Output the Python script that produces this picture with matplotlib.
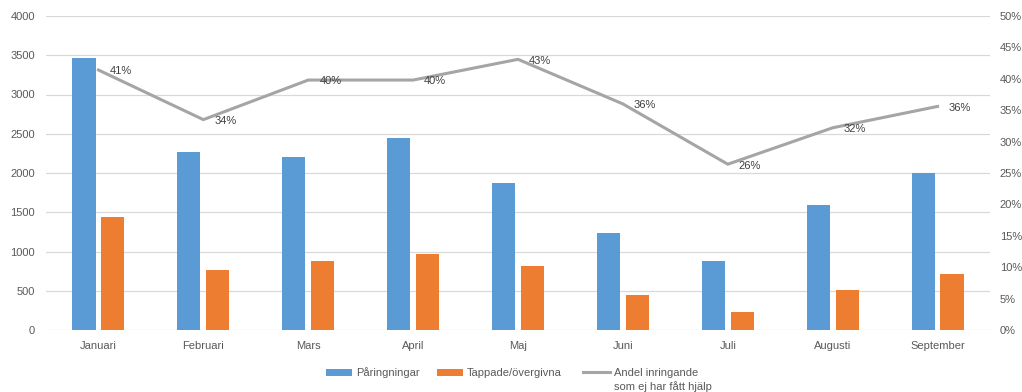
import matplotlib
matplotlib.use("Agg")
import matplotlib.pyplot as plt
from matplotlib.patches import Rectangle
from matplotlib.lines import Line2D
import numpy as np

months = ["Januari", "Februari", "Mars", "April", "Maj", "Juni", "Juli", "Augusti", "September"]
calls = [3470, 2270, 2210, 2450, 1870, 1240, 880, 1590, 2000]
dropped = [1440, 760, 880, 970, 810, 450, 230, 510, 710]
share = [0.414, 0.335, 0.398, 0.398, 0.431, 0.360, 0.264, 0.322, 0.356]
legend_labels = ["Påringningar", "Tappade/övergivna", "Andel inringande\nsom ej har fått hjälp"]

BLUE = "#5B9BD5"
ORANGE = "#ED7D31"
GRAY = "#A5A5A5"
GRID = "#D9D9D9"
TXT = "#595959"

plt.rcParams["font.family"] = ["Liberation Sans", "DejaVu Sans"]
plt.rcParams["font.size"] = 8

W, H = 1022, 392
fig = plt.figure(figsize=(W / 100, H / 100), dpi=100)
ax = fig.add_axes([46 / W, 1 - 330 / H, 944 / W, 314 / H])

x = np.arange(len(months))
w = 0.22
ax.bar(x - 0.138, calls, w, color=BLUE, zorder=2)
ax.bar(x + 0.138, dropped, w, color=ORANGE, zorder=2)

ax.set_xlim(-0.5, len(months) - 0.5)
ax.set_ylim(0, 4000)
ax.set_yticks(np.arange(0, 4001, 500))
ax.set_xticks(x)
ax.set_xticklabels(months)
ax.grid(axis="y", color=GRID, linewidth=0.9, zorder=0)
ax.set_axisbelow(True)
for s in ax.spines.values():
    s.set_visible(False)
ax.tick_params(length=0, colors=TXT, labelsize=8)
ax.tick_params(axis="x", pad=8)
ax.tick_params(axis="y", pad=8)

ax2 = ax.twinx()
ax2.set_ylim(0, 0.5)
pct_ticks = np.arange(0, 0.51, 0.05)
ax2.set_yticks(pct_ticks)
ax2.set_yticklabels([f"{int(round(v * 100))}%" for v in pct_ticks])
for s in ax2.spines.values():
    s.set_visible(False)
ax2.tick_params(length=0, colors=TXT, labelsize=8, pad=7)
ax2.plot(x, share, color=GRAY, linewidth=2.2, zorder=3)
for xi, v in zip(x, share):
    ax2.annotate(f"{round(v * 100):.0f}%", (xi, v), xytext=(8, -1), textcoords="offset points",
                 ha="left", va="center", fontsize=8, color="#404040")

# legend drawn by hand so the line sits beside the first text line, as in Excel
def px(xp, yp):
    return xp / W, 1 - yp / H

ly = 372
fig.add_artist(Rectangle(px(326, ly + 3.5), 26 / W, 7 / H, transform=fig.transFigure,
                         color=BLUE, lw=0))
fig.add_artist(Rectangle(px(437, ly + 3.5), 26 / W, 7 / H, transform=fig.transFigure,
                         color=ORANGE, lw=0))
fig.add_artist(Line2D([583 / W, 610 / W], [1 - ly / H] * 2, transform=fig.transFigure,
                      color=GRAY, lw=2.2))
for xp, lab in zip([356, 467, 614], legend_labels):
    fx, fy = px(xp, ly - 4.5)
    fig.text(fx, fy, lab, ha="left", va="top", fontsize=8, color=TXT, linespacing=1.45)

fig.savefig("out.png", dpi=100)
